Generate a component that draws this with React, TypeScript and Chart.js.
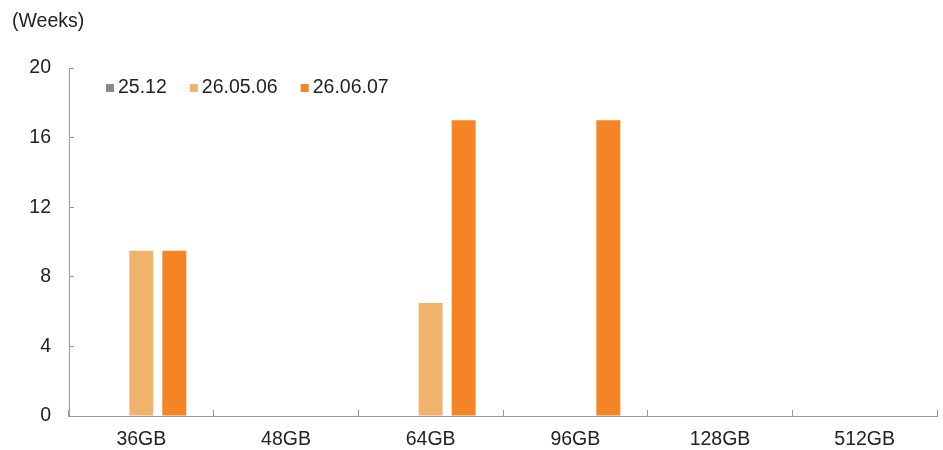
import React, { useEffect, useRef } from "react";
import { Chart, registerables, Plugin } from "chart.js";

Chart.register(...registerables);

const categories = ["36GB", "48GB", "64GB", "96GB", "128GB", "512GB"];
const seriesLabels = ["25.12", "26.05.06", "26.06.07"];
const series2512 = [0, 0, 0, 0, 0, 0];
const series260506 = [9.5, 0, 6.5, 0, 0, 0];
const series260607 = [9.5, 0, 17, 17, 0, 0];
const yTicks = [0, 4, 8, 12, 16, 20];

const colors = ["#8a8b8d", "#f0b36c", "#f58524"];
const FONT = '"Liberation Sans", Arial, sans-serif';
const FONT_SIZE = 19.5;

// legend sits inside the plot area, drawn by hand
const insideLegend: Plugin<"bar"> = {
  id: "insideLegend",
  afterDraw(chart) {
    const ctx = chart.ctx;
    const area = chart.chartArea;
    let x = area.left + 37;
    const y = area.top + 20;
    ctx.save();
    ctx.font = `${FONT_SIZE}px ${FONT}`;
    ctx.textBaseline = "middle";
    ctx.textAlign = "left";
    chart.data.datasets.forEach((ds) => {
      ctx.fillStyle = ds.backgroundColor as string;
      ctx.fillRect(x, y - 4, 8, 8);
      x += 12;
      ctx.fillStyle = "#222";
      ctx.fillText(ds.label || "", x, y);
      x += ctx.measureText(ds.label || "").width + 23;
    });
    ctx.restore();
  },
};

const App: React.FC = () => {
  const canvasRef = useRef<HTMLCanvasElement | null>(null);
  const chartRef = useRef<Chart | null>(null);

  useEffect(() => {
    if (!canvasRef.current) return;
    chartRef.current?.destroy();

    const values = [series2512, series260506, series260607];

    chartRef.current = new Chart(canvasRef.current, {
      type: "bar",
      data: {
        labels: categories,
        datasets: seriesLabels.map((label, i) => ({
          label,
          data: values[i],
          backgroundColor: colors[i],
          borderWidth: 0,
          categoryPercentage: 0.684,
          barPercentage: 0.727,
        })),
      },
      options: {
        animation: false,
        responsive: true,
        maintainAspectRatio: false,
        layout: { padding: { left: 12, right: 6, top: 8, bottom: 0 } },
        plugins: {
          legend: { display: false },
          tooltip: { enabled: false },
          title: {
            display: true,
            text: "(Weeks)",
            align: "start",
            color: "#222",
            font: { family: FONT, size: FONT_SIZE, weight: "normal" },
            padding: { top: 2, bottom: 34.6 },
          },
        },
        scales: {
          x: {
            grid: {
              offset: true,
              drawOnChartArea: false,
              drawTicks: true,
              tickLength: -6,
              color: "#999",
            },
            border: { color: "#999", width: 1 },
            ticks: {
              color: "#222",
              font: { family: FONT, size: FONT_SIZE },
              padding: 18,
              maxRotation: 0,
            },
            afterFit: (scale) => {
              scale.height = 34;
            },
          },
          y: {
            min: 0,
            max: 20,
            afterBuildTicks: (scale) => {
              scale.ticks = yTicks.map((v) => ({ value: v }));
            },
            grid: {
              drawOnChartArea: false,
              drawTicks: true,
              tickLength: -5,
              color: "#999",
            },
            border: { color: "#999", width: 1 },
            ticks: {
              color: "#222",
              font: { family: FONT, size: FONT_SIZE },
              padding: 23,
            },
            afterFit: (scale) => {
              scale.width = 57;
              scale.paddingBottom = 12;
            },
          },
        },
      },
      plugins: [insideLegend],
    });

    return () => {
      chartRef.current?.destroy();
      chartRef.current = null;
    };
  }, []);

  return (
    <div style={{ position: "fixed", left: 0, top: 0, width: 943, height: 450, background: "#fff" }}>
      <canvas ref={canvasRef} />
    </div>
  );
};

export default App;
